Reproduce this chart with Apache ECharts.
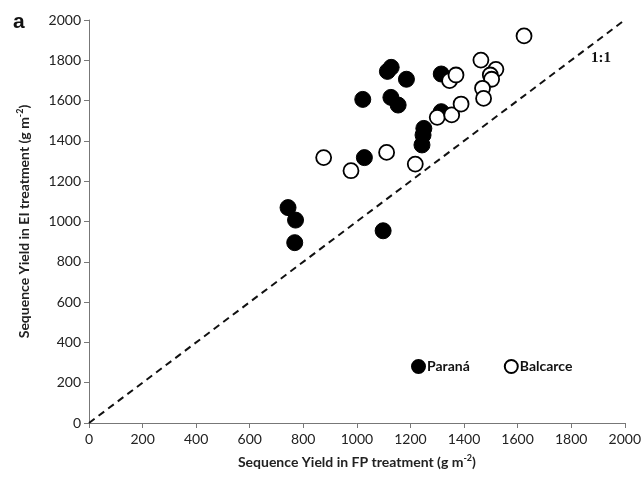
<!DOCTYPE html>
<html>
<head>
<meta charset="utf-8">
<script src="https://cdn.jsdelivr.net/npm/echarts@6/dist/echarts.min.js"></script>
<style>
  html, body { margin: 0; padding: 0; background: #fff; }
  #chart { width: 644px; height: 477px; }
</style>
</head>
<body>
<div id="chart"></div>
<script>
// FP treatment (x) vs EI treatment (y), g m-2
const paranaFP = [743, 771, 768, 1098, 1028, 1022, 1114, 1128, 1127, 1154, 1185, 1315, 1315, 1250, 1247, 1243]
const paranaEI = [1069, 1007, 895, 954, 1317, 1606, 1745, 1765, 1616, 1578, 1706, 1732, 1545, 1462, 1429, 1380]
const balcarceFP = [876, 978, 1111, 1218, 1300, 1354, 1389, 1346, 1370, 1463, 1519, 1498, 1503, 1469, 1473, 1624]
const balcarceEI = [1317, 1252, 1343, 1285, 1517, 1529, 1583, 1699, 1727, 1801, 1755, 1727, 1706, 1661, 1611, 1921]
const oneToOne = [[0, 0], [2000, 2000]]

const toPairs = (xs, ys) => xs.map((x, i) => [x, ys[i]])

const chart = echarts.init(document.getElementById('chart'), null, { renderer: 'canvas' })

const titleRich = {
  t: { fontSize: 14, fontWeight: 'bold', fontFamily: 'Lato', color: '#222' },
  s: { fontSize: 9, fontWeight: 'bold', fontFamily: 'Lato', color: '#222', verticalAlign: 'top', padding: [0, 0, 8, 0] }
}

const axisCommon = {
  min: 0,
  max: 2000,
  interval: 200,
  splitLine: { show: false },
  axisLine: { show: true, lineStyle: { color: '#777', width: 1 } },
  axisTick: { show: true, inside: false, length: 5, lineStyle: { color: '#777' } },
  axisLabel: { color: '#222', fontSize: 14, fontFamily: 'Lato', formatter: v => String(v) },
  nameLocation: 'middle'
}

const option = {
  backgroundColor: '#fff',
  animation: false,
  grid: { left: 89, right: 16, top: 20, bottom: 54 },
  xAxis: Object.assign({}, axisCommon, {
    type: 'value',
    name: '{t|Sequence Yield in FP treatment (g m}{s|-2}{t|)}',
    nameGap: 31,
    axisLabel: Object.assign({}, axisCommon.axisLabel, { margin: 9 }),
    nameTextStyle: { rich: titleRich }
  }),
  yAxis: Object.assign({}, axisCommon, {
    type: 'value',
    name: '{t|Sequence Yield in EI treatment (g m}{s|-2}{t|)}',
    nameGap: 56,
    axisLabel: Object.assign({}, axisCommon.axisLabel, { margin: 8 }),
    nameTextStyle: { rich: titleRich }
  }),
  legend: {
    data: ['Paraná', 'Balcarce'],
    left: 406,
    top: 354,
    itemWidth: 13,
    itemHeight: 13,
    itemGap: 34,
    textStyle: { fontSize: 14, fontWeight: 'bold', fontFamily: 'Lato', color: '#111', padding: [0, 0, 0, -3] }
  },
  graphic: [
    {
      type: 'text',
      left: 13,
      top: 12,
      style: { text: 'a', fontSize: 21, fontWeight: 'bold', fontFamily: 'Liberation Sans, DejaVu Sans, sans-serif', fill: '#111' }
    }
  ],
  series: [
    {
      name: '1:1',
      type: 'line',
      data: oneToOne,
      symbol: 'none',
      silent: true,
      lineStyle: { color: '#111', width: 2, type: [7, 5] },
      markPoint: {
        symbol: 'circle',
        symbolSize: 0,
        data: [{ coord: [1911, 1811], value: '1:1' }],
        label: { show: true, formatter: '1:1', color: '#111', fontSize: 15, fontWeight: 'bold', fontFamily: 'Liberation Serif' }
      },
      z: 1
    },
    {
      name: 'Paraná',
      type: 'scatter',
      data: toPairs(paranaFP, paranaEI),
      symbol: 'circle',
      symbolSize: 16,
      itemStyle: { color: '#000', borderColor: '#000', borderWidth: 1, opacity: 1 },
      z: 3
    },
    {
      name: 'Balcarce',
      type: 'scatter',
      data: toPairs(balcarceFP, balcarceEI),
      symbol: 'circle',
      symbolSize: 15,
      itemStyle: { color: '#fff', borderColor: '#000', borderWidth: 1.8, opacity: 1 },
      z: 4
    }
  ]
}

chart.setOption(option)
</script>
</body>
</html>
